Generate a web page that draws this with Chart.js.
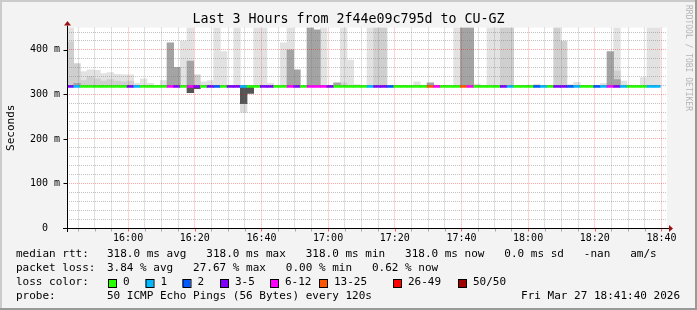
<!DOCTYPE html>
<html>
<head>
<meta charset="utf-8">
<script src="https://cdn.jsdelivr.net/npm/chart.js@4/dist/chart.umd.min.js"></script>
<style>
  html, body { margin: 0; padding: 0; background: #f3f3f3; }
  #wrap { width: 697px; height: 310px; }
</style>
</head>
<body>
<div id="wrap"><canvas id="chart" width="697" height="310"></canvas></div>
<script>
// --- 1. data (one entry per 120s step, 15:41:40 -> 18:41:40) ---
const startSec = 56500;   // 15:41:40
const stepSec = 120;
const spanSec = 10800;

const median = [
  318,318,318,318,318,318,318,318,318,318,
  318,318,318,318,318,318,318,318,318,318,
  318,318,318,318,318,318,318,318,318,318,
  318,318,318,318,318,318,318,318,318,318,
  318,318,318,318,318,318,318,318,318,318,
  318,318,318,318,318,318,318,318,318,318,
  318,318,318,318,318,318,318,318,318,318,
  318,318,318,318,318,318,318,318,318,318,
  318,318,318,318,318,318,318,318,318
];

// lost pings out of 50
const lossPings = [
  4,1,0,0,0,0,0,0,0,4,
  1,0,0,0,0,8,4,0,8,4,
  0,4,2,0,4,4,1,0,0,4,
  4,0,0,8,4,0,8,8,8,4,
  0,0,0,0,0,1,4,4,2,0,
  0,0,0,0,14,8,0,0,0,14,
  8,0,0,0,0,4,1,0,0,0,
  2,1,0,4,4,2,1,0,0,2,
  1,8,4,1,0,0,0,1,1
];

// smoke above the median (ms)
const smokeLight = [
  450,null,351,355,354,347,349,345,344,344,
  325,335,325,320,331,null,null,420,450,null,
  328,331,450,396,null,450,null,null,450,450,
  325,null,416,450,null,null,null,null,450,null,
  325,450,377,322,null,450,null,null,null,null,
  null,null,328,null,null,321,null,null,450,null,
  null,323,null,450,450,null,null,null,null,321,
  323,null,null,null,null,322,327,null,null,null,
  325,null,450,330,321,null,338,450,450
];
const smokeMid = [
  418,369,331,340,335,330,333,330,328,330,
  null,null,null,null,null,null,null,null,null,344,
  null,null,null,null,null,null,null,null,null,null,
  null,null,null,null,null,null,null,null,null,null,
  null,326,null,null,null,null,450,450,null,null,
  null,null,null,null,null,null,null,null,null,null,
  null,null,null,null,null,450,450,null,null,null,
  null,null,null,450,420,null,null,null,null,null,
  null,null,353,null,null,null,null,null,null
];
const smokeDark = [
  null,325,null,null,null,null,null,null,null,null,
  null,null,null,null,null,416,361,null,375,null,
  null,null,null,null,null,null,null,null,null,null,
  null,null,null,400,355,null,450,445,null,null,
  326,null,null,null,null,null,null,null,null,null,
  null,null,null,null,326,null,null,null,null,450,
  450,null,null,null,null,null,null,null,null,null,
  null,null,null,null,null,null,null,null,null,null,
  null,396,333,null,null,null,null,null,null
];
// smoke below the median (ms)
const belowDark = [
  null,null,null,null,null,null,null,null,null,null,
  null,null,null,null,null,null,null,null,304,313,
  null,null,null,null,null,null,279,302,null,null,
  null,null,null,null,null,null,null,null,null,null,
  null,null,null,null,null,null,null,null,null,null,
  null,null,null,null,null,null,null,null,null,null,
  null,null,null,null,null,null,null,null,null,null,
  null,null,null,null,null,null,null,null,null,null,
  null,null,null,null,null,null,null,null,null
];
const belowLight = [
  null,null,null,null,null,null,null,null,null,null,
  null,null,null,null,null,null,null,null,null,null,
  null,null,null,null,null,null,260,null,null,null,
  null,null,null,null,null,null,null,null,null,null,
  null,null,null,null,null,null,null,null,null,null,
  null,null,null,null,null,null,null,null,null,null,
  null,null,null,null,null,null,null,null,null,null,
  null,null,null,null,null,null,null,null,null,null,
  null,null,null,null,null,null,null,null,null
];

const yTicks = [0, 100, 200, 300, 400];
const yTickLabels = ['0  ', '100 m', '200 m', '300 m', '400 m'];

const lossNames = ['0', '1', '2', '3-5', '6-12', '13-25', '26-49', '50/50'];
const lossLimits = [0, 1, 2, 5, 12, 25, 49, 50];
const lossColors = ['#26ff00', '#00b8ff', '#0059ff', '#7e00ff', '#ff00ff', '#ff5500', '#ff0000', '#a10000'];

const titleText = 'Last 3 Hours from 2f44e09c795d to CU-GZ';
const legendRows = [
  ['median rtt:', '318.0 ms avg   318.0 ms max   318.0 ms min   318.0 ms now   0.0 ms sd   -nan   am/s'],
  ['packet loss:', '3.84 % avg   27.67 % max   0.00 % min   0.62 % now'],
  ['loss color:', ''],
  ['probe:', '50 ICMP Echo Pings (56 Bytes) every 120s']
];
const stampText = 'Fri Mar 27 18:41:40 2026';

// --- 2. helpers ---
const MONO = '"DejaVu Sans Mono", "Liberation Mono", monospace';
const stepMid = i => startSec + stepSec * i + stepSec / 2;

function lossColor(n) {
  for (let k = 0; k < lossLimits.length; k++) if (n <= lossLimits[k]) return lossColors[k];
  return lossColors[lossColors.length - 1];
}

function bandAbove(tops, color) {
  const data = [];
  tops.forEach((v, i) => { if (v != null) data.push({ x: stepMid(i), y: [median[i], v] }); });
  return { data, backgroundColor: color, grouped: false, barPercentage: 1, categoryPercentage: 1, borderWidth: 0 };
}
function bandBelow(lows, color) {
  const data = [];
  lows.forEach((v, i) => { if (v != null) data.push({ x: stepMid(i), y: [v, median[i]] }); });
  return { data, backgroundColor: color, grouped: false, barPercentage: 1, categoryPercentage: 1, borderWidth: 0 };
}

function hhmm(sec) {
  const h = Math.floor(sec / 3600), m = Math.floor(sec % 3600 / 60);
  return String(h).padStart(2, '0') + ':' + String(m).padStart(2, '0');
}

// grid every 5 minutes on the clock, not from the start of the window
function clockTicks(scale) {
  const ticks = [];
  for (let v = Math.ceil(scale.min / 300) * 300; v <= scale.max; v += 300) ticks.push({ value: v });
  scale.ticks = ticks;
}

// --- 3. frame, axes and texts drawn around the chart ---
const rrdFrame = {
  id: 'rrdFrame',
  beforeDraw(chart) {
    const { ctx, width, height, chartArea: a } = chart;
    ctx.save();
    ctx.fillStyle = '#f3f3f3';
    ctx.fillRect(0, 0, width, height);
    ctx.fillStyle = '#cbcbcb';
    ctx.fillRect(0, 0, width, 2);
    ctx.fillRect(0, 0, 2, height);
    ctx.fillStyle = '#999999';
    ctx.fillRect(0, height - 2, width, 2);
    ctx.fillRect(width - 2, 0, 2, height);
    ctx.fillStyle = '#ffffff';
    ctx.fillRect(a.left, a.top, a.right - a.left, a.bottom - a.top);
    ctx.restore();
  },
  afterDraw(chart) {
    const { ctx, chartArea: a } = chart;
    const xs = chart.scales.x, ys = chart.scales.y;
    const y0 = Math.round(ys.getPixelForValue(0)) + 0.5;
    const x0 = Math.round(a.left) + 0.5;
    ctx.save();

    // tick marks under the x axis
    xs.ticks.forEach(t => {
      const px = Math.round(xs.getPixelForValue(t.value)) + 0.5;
      ctx.strokeStyle = t.value % 1200 === 0 ? 'rgba(255,0,0,0.6)' : 'rgba(120,120,120,0.6)';
      ctx.beginPath(); ctx.moveTo(px, y0); ctx.lineTo(px, y0 + 3); ctx.stroke();
    });
    // tick marks left of the y axis
    ctx.strokeStyle = '#000';
    yTicks.forEach(v => {
      const py = Math.round(ys.getPixelForValue(v)) + 0.5;
      ctx.beginPath(); ctx.moveTo(x0 - 4, py); ctx.lineTo(x0, py); ctx.stroke();
    });

    // axes
    ctx.strokeStyle = '#000';
    ctx.lineWidth = 1;
    ctx.beginPath();
    ctx.moveTo(a.left - 4, y0); ctx.lineTo(a.right + 2, y0);
    ctx.moveTo(x0, a.bottom + 4); ctx.lineTo(x0, a.top - 2);
    ctx.stroke();
    ctx.fillStyle = '#9b1010';
    ctx.beginPath();
    ctx.moveTo(a.right + 6, y0); ctx.lineTo(a.right + 2, y0 - 3.5); ctx.lineTo(a.right + 2, y0 + 3.5);
    ctx.closePath(); ctx.fill();
    ctx.beginPath();
    ctx.moveTo(x0, a.top - 6.5); ctx.lineTo(x0 - 3.5, a.top - 2); ctx.lineTo(x0 + 3.5, a.top - 2);
    ctx.closePath(); ctx.fill();

    // tick labels
    ctx.fillStyle = '#000';
    ctx.font = '10px ' + MONO;
    ctx.textBaseline = 'middle';
    ctx.textAlign = 'center';
    xs.ticks.forEach(t => {
      if (t.value % 1200 !== 0) return;
      ctx.fillText(hhmm(t.value), xs.getPixelForValue(t.value), a.bottom + 10);
    });
    ctx.textAlign = 'right';
    yTicks.forEach((v, k) => ctx.fillText(yTickLabels[k], a.left - 7, ys.getPixelForValue(v)));

    // title
    ctx.font = '13.3px ' + MONO;
    ctx.textAlign = 'center';
    ctx.fillText(titleText, 348.5, 19.5);

    // y axis label
    ctx.font = '11px ' + MONO;
    ctx.save();
    ctx.translate(11, (a.top + a.bottom) / 2);
    ctx.rotate(-Math.PI / 2);
    ctx.fillText('Seconds', 0, 0);
    ctx.restore();

    // side watermark
    ctx.save();
    ctx.font = '8px ' + MONO;
    ctx.fillStyle = '#b4b4b4';
    ctx.translate(688, 5);
    ctx.rotate(Math.PI / 2);
    ctx.textAlign = 'left';
    ctx.fillText('RRDTOOL / TOBI OETIKER', 0, 0);
    ctx.restore();

    // legend
    ctx.font = '11px ' + MONO;
    ctx.textAlign = 'left';
    const rowY = [254.5, 268.5, 282.5, 296.5];
    legendRows.forEach((r, k) => {
      ctx.fillText(r[0], 16, rowY[k]);
      if (r[1]) ctx.fillText(r[1], 107, rowY[k]);
    });
    const boxX = [108, 145.5, 182.5, 220, 270, 319, 393, 458];
    lossNames.forEach((name, k) => {
      ctx.fillStyle = lossColors[k];
      ctx.fillRect(boxX[k], 279, 8, 8);
      ctx.strokeStyle = '#000';
      ctx.strokeRect(boxX[k] + 0.5, 279.5, 8, 8);
      ctx.fillStyle = '#000';
      ctx.fillText(name, boxX[k] + 15, rowY[2]);
    });
    ctx.textAlign = 'right';
    ctx.fillText(stampText, 680, rowY[3]);
    ctx.restore();
  }
};

// --- 4. chart ---
const minorGrid = 'rgba(120,120,120,0.45)';
const majorGrid = 'rgba(255,0,0,0.35)';

const medianLine = {
  data: median.map((m, i) => ({ x: stepMid(i), y: [m - 2.2, m + 2.2] })),
  backgroundColor: c => lossColor(lossPings[c.dataIndex]),
  grouped: false, barPercentage: 1, categoryPercentage: 1, borderWidth: 0
};

new Chart(document.getElementById('chart'), {
  type: 'bar',
  data: {
    datasets: [
      medianLine,
      bandBelow(belowDark, '#555555'),
      bandAbove(smokeDark, '#a4a4a4'),
      bandAbove(smokeMid, '#cfcfcf'),
      bandBelow(belowLight, '#dcdcdc'),
      bandAbove(smokeLight, '#e2e2e2')
    ]
  },
  options: {
    responsive: false,
    animation: false,
    layout: { padding: { left: 67, right: 30, top: 27.6, bottom: 82 } },
    plugins: { legend: { display: false }, tooltip: { enabled: false } },
    scales: {
      x: {
        type: 'linear', min: startSec, max: startSec + spanSec, offset: false,
        afterBuildTicks: clockTicks,
        ticks: { display: false, autoSkip: false },
        grid: { offset: false, color: c => (c.tick && c.tick.value % 1200 === 0) ? majorGrid : minorGrid, drawTicks: false, z: 1 },
        border: { display: false, dash: [1, 1] }
      },
      y: {
        min: 0, max: 450,
        ticks: { display: false, stepSize: 20, includeBounds: false },
        grid: { color: c => (c.tick && c.tick.value % 100 === 0) ? majorGrid : minorGrid, drawTicks: false, z: 1 },
        border: { display: false, dash: [1, 1] }
      }
    }
  },
  plugins: [rrdFrame]
});
</script>
</body>
</html>
